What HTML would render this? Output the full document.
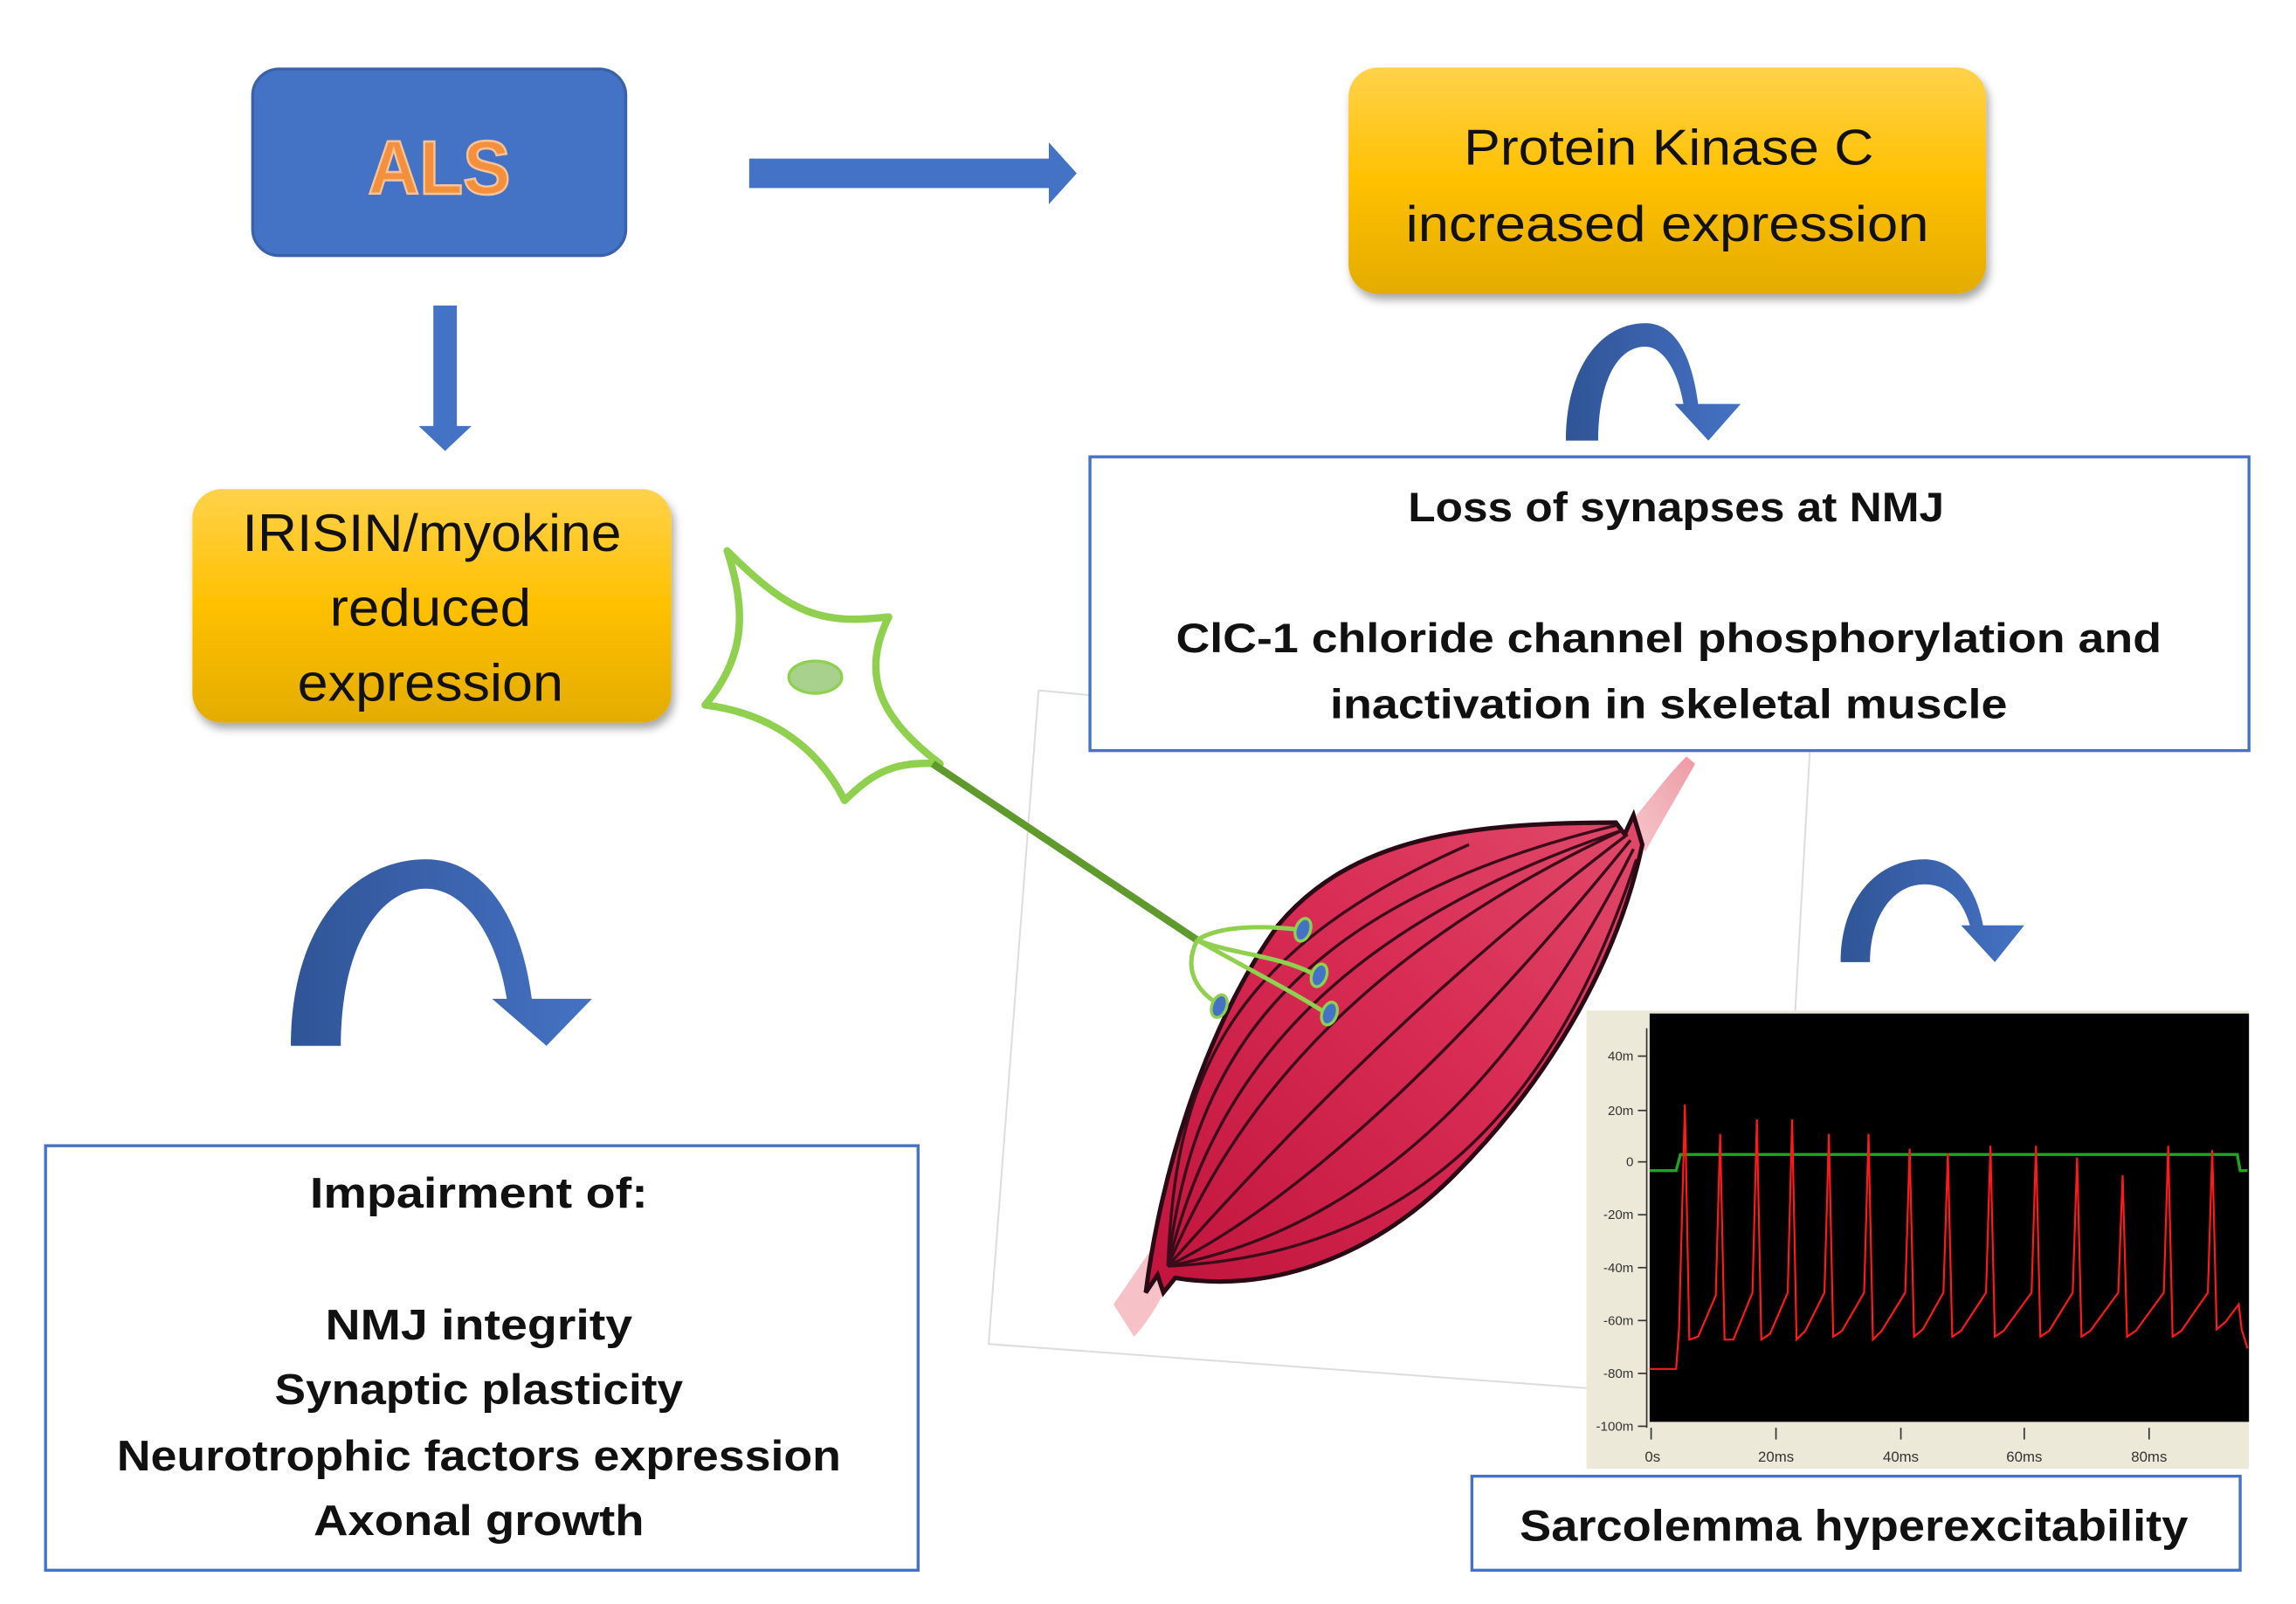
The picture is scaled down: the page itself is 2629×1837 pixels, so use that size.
<!DOCTYPE html>
<html><head><meta charset="utf-8"><style>
html,body{margin:0;padding:0;background:#fff;}
svg{display:block;}
text{font-family:"Liberation Sans",sans-serif;}
</style></head><body>
<svg width="2629" height="1837" viewBox="0 0 1563 1092" preserveAspectRatio="none" xmlns="http://www.w3.org/2000/svg">
<defs>
<linearGradient id="gold" x1="0" y1="0" x2="0" y2="1">
<stop offset="0" stop-color="#ffd24a"/><stop offset="0.5" stop-color="#ffc000"/><stop offset="1" stop-color="#e3ac00"/></linearGradient>
<linearGradient id="arc" x1="0" y1="0" x2="1" y2="0">
<stop offset="0" stop-color="#2f5597"/><stop offset="0.5" stop-color="#3b63ad"/><stop offset="1" stop-color="#4472c4"/></linearGradient>
<linearGradient id="musc" x1="0" y1="1" x2="1" y2="0">
<stop offset="0" stop-color="#c0143c"/><stop offset="0.6" stop-color="#d92d55"/><stop offset="1" stop-color="#e04a6a"/></linearGradient>
<linearGradient id="tend" x1="0" y1="1" x2="1" y2="0">
<stop offset="0" stop-color="#f6c8cc"/><stop offset="1" stop-color="#ee9aa5"/></linearGradient>
<filter id="sh" x="-10%" y="-10%" width="120%" height="130%"><feDropShadow dx="2" dy="4" stdDeviation="3" flood-color="#000" flood-opacity="0.35"/></filter>
</defs>

<path d="M707,470 L673,915 L1080,945 M707,470 L900,488 M1232,512 L1222,690" stroke="#dddddd" stroke-width="1.2" fill="none"/>

<rect x="172" y="47" width="254" height="127" rx="18" fill="#4472c4" stroke="#3a62aa" stroke-width="2"/>
<text x="299" y="132" text-anchor="middle" font-size="52" font-weight="bold" fill="#f4903c" stroke="#f8c39a" stroke-width="1.5" textLength="97" lengthAdjust="spacingAndGlyphs">ALS</text>

<path d="M510,108 L714,108 L714,97 L733,118 L714,139 L714,128 L510,128 Z" fill="#4472c4"/>
<path d="M295,208 L311,208 L311,290 L321,290 L303,307 L285,290 L295,290 Z" fill="#4472c4"/>

<rect x="918" y="46" width="434" height="154" rx="20" fill="url(#gold)" filter="url(#sh)"/>
<text x="1136" y="112" text-anchor="middle" font-size="34" fill="#111" textLength="279" lengthAdjust="spacingAndGlyphs">Protein Kinase C</text>
<text x="1135" y="164" text-anchor="middle" font-size="34" fill="#111" textLength="356" lengthAdjust="spacingAndGlyphs">increased expression</text>

<rect x="131" y="333" width="326" height="159" rx="20" fill="url(#gold)" filter="url(#sh)"/>
<text x="294" y="375" text-anchor="middle" font-size="36" fill="#111" textLength="258" lengthAdjust="spacingAndGlyphs">IRISIN/myokine</text>
<text x="293" y="426" text-anchor="middle" font-size="36" fill="#111" textLength="137" lengthAdjust="spacingAndGlyphs">reduced</text>
<text x="293" y="477" text-anchor="middle" font-size="36" fill="#111" textLength="181" lengthAdjust="spacingAndGlyphs">expression</text>

<path d="M1066,300 C1066,250 1090,220 1120,220 C1142,220 1152,245 1156,275 L1185,275 L1163,300 L1140,275 L1146,275 C1142,252 1132,236 1120,236 C1100,236 1088,262 1088,300 Z" fill="url(#arc)"/>
<path d="M198,712 C198,630 240,585 290,585 C330,585 355,625 362,680 L403,680 L372,712 L335,680 L345,680 C338,635 315,605 290,605 C258,605 232,645 232,712 Z" fill="url(#arc)"/>
<path d="M1253,655 C1253,612 1278,585 1310,585 C1330,585 1345,603 1350,630 L1378,630 L1358,655 L1335,630 L1341,630 C1336,612 1325,602 1310,602 C1290,602 1273,622 1273,655 Z" fill="url(#arc)"/>

<rect x="742" y="311" width="789" height="200" fill="#fff" stroke="#4472c4" stroke-width="2"/>
<text x="1141" y="355" text-anchor="middle" font-size="28" font-weight="bold" fill="#111" textLength="365" lengthAdjust="spacingAndGlyphs">Loss of synapses at NMJ</text>
<text x="1136" y="444" text-anchor="middle" font-size="28" font-weight="bold" fill="#111" textLength="671" lengthAdjust="spacingAndGlyphs">ClC-1 chloride channel phosphorylation and</text>
<text x="1136" y="489" text-anchor="middle" font-size="28" font-weight="bold" fill="#111" textLength="461" lengthAdjust="spacingAndGlyphs">inactivation in skeletal muscle</text>

<rect x="31" y="780" width="594" height="289" fill="#fff" stroke="#4472c4" stroke-width="2"/>
<g font-size="29" font-weight="bold" fill="#111" text-anchor="middle">
<text x="326" y="822" textLength="230" lengthAdjust="spacingAndGlyphs">Impairment of:</text>
<text x="326" y="912" textLength="209" lengthAdjust="spacingAndGlyphs">NMJ integrity</text>
<text x="326" y="956" textLength="278" lengthAdjust="spacingAndGlyphs">Synaptic plasticity</text>
<text x="326" y="1001" textLength="493" lengthAdjust="spacingAndGlyphs">Neurotrophic factors expression</text>
<text x="326" y="1045" textLength="225" lengthAdjust="spacingAndGlyphs">Axonal growth</text>
</g>

<path d="M758,888 C772,868 782,852 792,840 L806,845 C798,872 786,895 772,910 Z" fill="#f6c2c8"/>
<path d="M1110,560 C1125,542 1135,528 1148,515 L1154,520 C1140,545 1128,565 1120,580 Z" fill="url(#tend)"/>
<path d="M780,880 C790,800 820,700 870,630 C920,570 1000,560 1100,560 L1106,568 L1112,555 L1118,575 C1100,660 1050,740 990,800 C930,860 860,880 800,870 L792,880 L788,868 Z" fill="url(#musc)" stroke="#2a0a14" stroke-width="3"/>
<g stroke="#3a0c1a" stroke-width="2" fill="none">
<path d="M795,862 C830,780 900,660 1105,565"/>
<path d="M795,862 C820,760 880,640 1105,565"/>
<path d="M795,862 C810,740 860,620 1100,562"/>
<path d="M795,862 C850,800 960,680 1108,568"/>
<path d="M795,862 C880,820 990,720 1110,572"/>
<path d="M795,862 C910,840 1020,760 1112,578"/>
<path d="M795,862 C940,855 1050,780 1114,585"/>
<path d="M795,862 C800,740 830,650 1000,575"/>
</g>

<path d="M495,375 C540,420 560,425 605,420 C585,460 600,490 640,520 C610,518 595,525 575,545 C555,505 520,485 480,480 C505,450 510,420 495,375 Z" fill="none" stroke="#8fd14f" stroke-width="5" stroke-linejoin="round"/>
<ellipse cx="555" cy="461" rx="18" ry="11" fill="#a9d18e" stroke="#8fd14f" stroke-width="2"/>
<path d="M635,520 L815,640" stroke="#5e9a2c" stroke-width="5"/>
<g stroke="#8fd14f" stroke-width="3" fill="none">
<path d="M815,640 C830,630 860,630 885,633"/>
<path d="M815,640 C840,650 870,650 896,664"/>
<path d="M815,640 C850,660 880,675 903,690"/>
<path d="M815,640 C805,660 815,675 830,684"/>
</g>
<g fill="#4472c4" stroke="#8fd14f" stroke-width="2">
<ellipse cx="887" cy="633" rx="5" ry="8" transform="rotate(20 887 633)"/>
<ellipse cx="898" cy="664" rx="5" ry="8" transform="rotate(20 898 664)"/>
<ellipse cx="905" cy="690" rx="5" ry="8" transform="rotate(20 905 690)"/>
<ellipse cx="830" cy="685" rx="5" ry="8" transform="rotate(20 830 685)"/>
</g>

<rect x="1080" y="688" width="451" height="312" fill="#ece9d8"/>
<rect x="1123" y="690" width="408" height="278" fill="#000"/>
<line x1="1121" y1="700" x2="1121" y2="972" stroke="#333" stroke-width="1"/>
<g font-size="9" fill="#333" text-anchor="end">
<text x="1112" y="722">40m</text><text x="1112" y="759">20m</text><text x="1112" y="794">0</text>
<text x="1112" y="830">-20m</text><text x="1112" y="866">-40m</text><text x="1112" y="902">-60m</text>
<text x="1112" y="938">-80m</text><text x="1112" y="974">-100m</text>
</g>
<g stroke="#333" stroke-width="1">
<line x1="1115" y1="719" x2="1121" y2="719"/><line x1="1115" y1="756" x2="1121" y2="756"/><line x1="1115" y1="791" x2="1121" y2="791"/>
<line x1="1115" y1="827" x2="1121" y2="827"/><line x1="1115" y1="863" x2="1121" y2="863"/><line x1="1115" y1="899" x2="1121" y2="899"/>
<line x1="1115" y1="935" x2="1121" y2="935"/><line x1="1115" y1="971" x2="1121" y2="971"/>
<line x1="1124" y1="972" x2="1124" y2="980"/><line x1="1209" y1="972" x2="1209" y2="980"/><line x1="1294" y1="972" x2="1294" y2="980"/>
<line x1="1378" y1="972" x2="1378" y2="980"/><line x1="1463" y1="972" x2="1463" y2="980"/>
</g>
<g font-size="10" fill="#333" text-anchor="middle">
<text x="1125" y="995">0s</text><text x="1209" y="995">20ms</text><text x="1294" y="995">40ms</text><text x="1378" y="995">60ms</text><text x="1463" y="995">80ms</text>
</g>
<path d="M1123,797 L1141,797 L1144,786 L1523,786 L1525,797 L1530,797" stroke="#1fa51f" stroke-width="2" fill="none"/>
<path d="M1123,932 L1141,932 L1143,905 L1147,752 L1150,912 L1156,910 L1168,882 L1171,772 L1174,912 L1180,912 L1193,880 L1196,762 L1199,912 L1205,908 L1217,880 L1220,762 L1223,912 L1229,906 L1242,880 L1245,772 L1248,910 L1254,906 L1269,880 L1272,772 L1275,912 L1281,906 L1297,880 L1300,782 L1303,910 L1309,905 L1323,880 L1326,785 L1329,910 L1335,906 L1352,880 L1355,780 L1358,910 L1364,906 L1383,880 L1386,780 L1389,910 L1395,906 L1411,880 L1414,788 L1417,910 L1423,906 L1442,880 L1445,800 L1448,910 L1454,906 L1473,880 L1476,780 L1479,910 L1485,906 L1503,880 L1506,783 L1509,905 L1515,900 L1524,888 L1526,905 L1530,918" stroke="#ff1a1a" stroke-width="1.3" fill="none"/>

<rect x="1002" y="1005" width="523" height="64" fill="#fff" stroke="#4472c4" stroke-width="2"/>
<text x="1262" y="1049" text-anchor="middle" font-size="30" font-weight="bold" fill="#111" textLength="455" lengthAdjust="spacingAndGlyphs">Sarcolemma hyperexcitability</text>
</svg>
</body></html>
